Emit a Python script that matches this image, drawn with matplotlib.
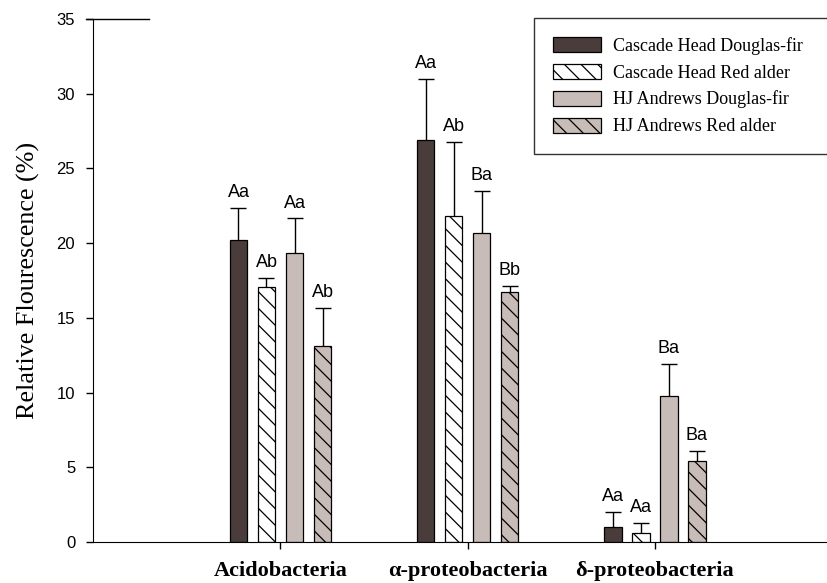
import numpy as np
import matplotlib
matplotlib.use('Agg')
import matplotlib.pyplot as plt

groups = ['Acidobacteria', 'α-proteobacteria', 'δ-proteobacteria']
series = ['Cascade Head Douglas-fir', 'Cascade Head Red alder',
          'HJ Andrews Douglas-fir', 'HJ Andrews Red alder']

# mean relative fluorescence per series, one value per group
ch_df = [20.2, 26.9, 1.0]
ch_ra = [17.05, 21.8, 0.62]
hj_df = [19.35, 20.7, 9.8]
hj_ra = [13.1, 16.75, 5.45]

# upper error (SE)
ch_df_err = [2.15, 4.1, 1.0]
ch_ra_err = [0.65, 5.0, 0.67]
hj_df_err = [2.3, 2.8, 2.1]
hj_ra_err = [2.55, 0.38, 0.65]

ch_df_lab = ['Aa', 'Aa', 'Aa']
ch_ra_lab = ['Ab', 'Ab', 'Aa']
hj_df_lab = ['Aa', 'Ba', 'Ba']
hj_ra_lab = ['Ab', 'Bb', 'Ba']

dark = '#4a3c3a'
light = '#c8bcb8'
styles = [(dark, ''), ('white', '\\\\'), (light, ''), (light, '\\\\')]

plt.rcParams['hatch.linewidth'] = 0.9

fig = plt.figure(figsize=(8.28, 5.83), dpi=100)
ax = fig.add_axes([93.3 / 828, 41 / 583, 748.8 / 828, 523 / 583])

x = np.arange(1, len(groups) + 1)
width = 0.0935
step = 0.1496
offsets = [-1.5 * step, -0.5 * step, 0.5 * step, 1.5 * step]

vals = [ch_df, ch_ra, hj_df, hj_ra]
errs = [ch_df_err, ch_ra_err, hj_df_err, hj_ra_err]
labs = [ch_df_lab, ch_ra_lab, hj_df_lab, hj_ra_lab]

for i in range(4):
    xi = x + offsets[i]
    v = np.array(vals[i])
    e = np.array(errs[i])
    ax.bar(xi, v, width, color=styles[i][0], hatch=styles[i][1],
           edgecolor='black', linewidth=0.9, label=series[i], zorder=2)
    # upper error only: stem from bar top plus a single cap
    ax.vlines(xi, v, v + e, color='black', lw=1, zorder=3)
    ax.plot(xi, v + e, ls='none', marker='_', markersize=11,
            markeredgewidth=1, color='black', zorder=3)
    for xx, top, t in zip(xi, v + e, labs[i]):
        ax.annotate(t, (xx, top), xytext=(0, 5), textcoords='offset points',
                    ha='center', va='bottom', fontsize=13,
                    family='Liberation Sans')

ax.set_xlim(0, 4)
ax.set_ylim(0, 35)
ax.set_yticks(np.arange(0, 36, 5))
ax.set_xticks(x)
ax.set_xticklabels(groups, family='Liberation Serif', fontweight='bold',
                   fontsize=16)
for lab in ax.get_yticklabels():
    lab.set_family('Liberation Sans')
    lab.set_fontsize(12)

ax.spines['right'].set_visible(False)
ax.spines['top'].set_visible(False)
ax.tick_params(axis='y', direction='out', length=5, width=1, pad=8)
ax.tick_params(axis='x', direction='out', length=5, width=1, pad=9)
ax.plot([-0.04, 0.3], [35, 35], color='black', lw=1, clip_on=False)

ax.set_ylabel('Relative Flourescence (%)', family='Liberation Serif',
              fontsize=18.8, labelpad=12)

# legend box runs off the right edge of the figure
leg_top = 1 - 18 / 583
leg = ax.legend(loc='upper left',
                bbox_to_anchor=(534 / 828, leg_top - 0.01, 320 / 828, 0.01),
                bbox_transform=fig.transFigure, mode='expand',
                frameon=True, fancybox=False, edgecolor='black',
                prop={'family': 'Liberation Serif', 'size': 13},
                handlelength=2.66, handleheight=0.9, handletextpad=0.67,
                labelspacing=0.5, borderpad=1.05, borderaxespad=0)
leg.get_frame().set_linewidth(1)

fig.savefig('out.png', dpi=100)
